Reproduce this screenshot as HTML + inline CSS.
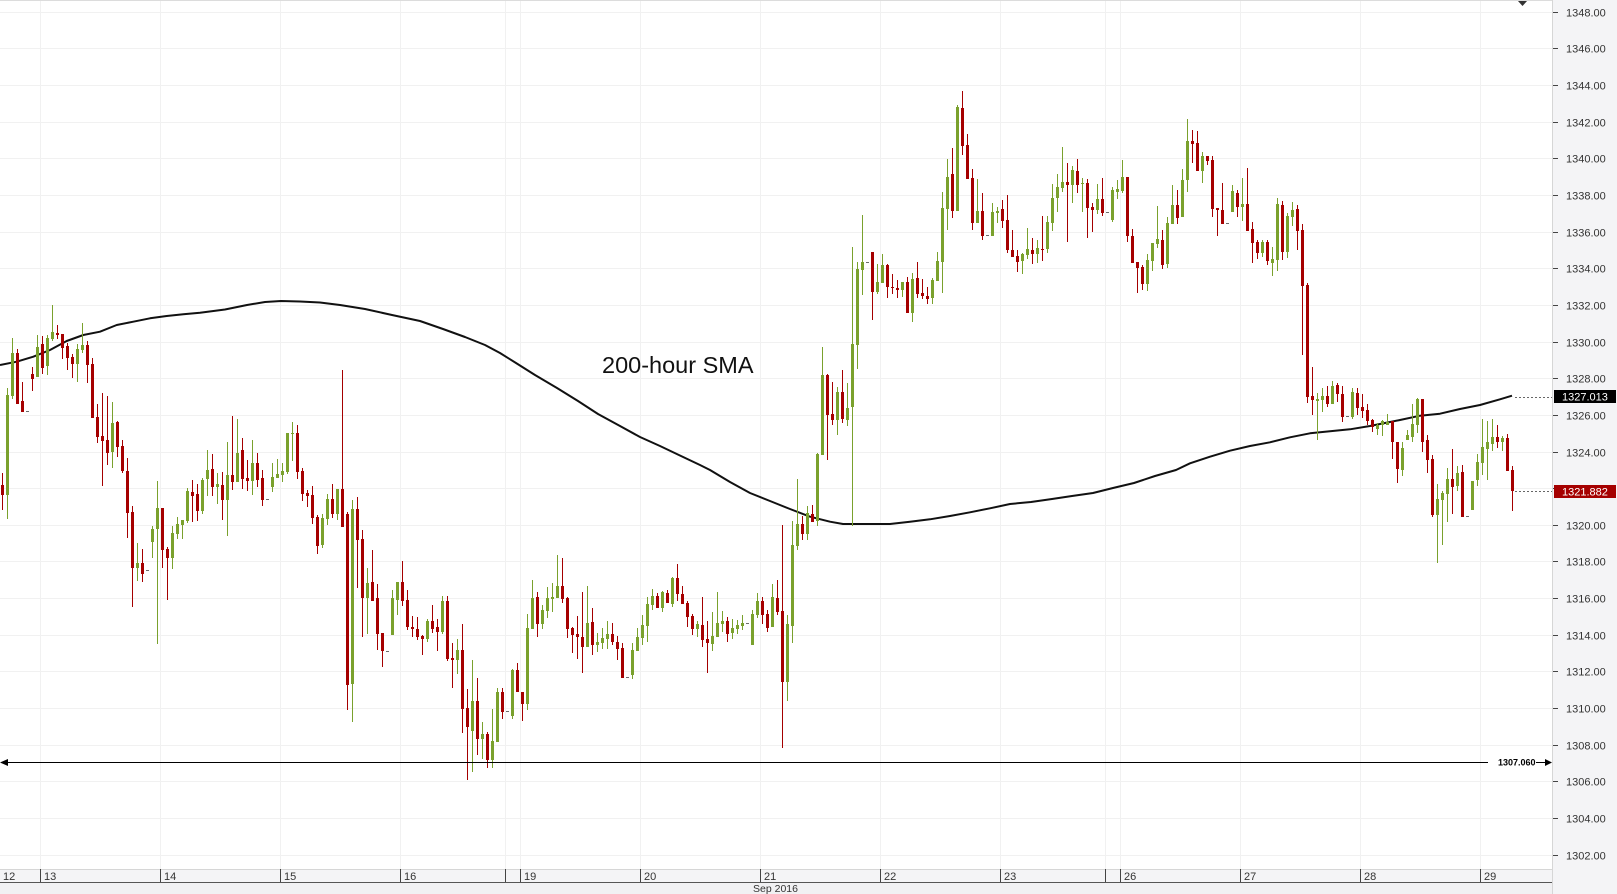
<!DOCTYPE html>
<html><head><meta charset="utf-8"><style>
html,body{margin:0;padding:0;background:#fff;}
svg{display:block;}
text{font-family:"Liberation Sans",sans-serif;}
</style></head><body>
<svg width="1617" height="894" viewBox="0 0 1617 894" xmlns="http://www.w3.org/2000/svg">
<rect x="0" y="0" width="1617" height="894" fill="#fff"/>
<!-- right axis bg -->
<rect x="1552" y="0" width="65" height="894" fill="#f4f4f6"/>
<!-- bottom axis bg -->
<rect x="0" y="869" width="1552" height="25" fill="#f4f4f6"/>
<rect x="0" y="882" width="1552" height="12" fill="#f1f1f3"/>
<!-- horizontal gridlines -->
<g stroke="#f1f1f1" stroke-width="1">
<path d="M0 12.5H1552M0 48.5H1552M0 85.5H1552M0 122.5H1552M0 158.5H1552M0 195.5H1552M0 232.5H1552M0 268.5H1552M0 305.5H1552M0 342.5H1552M0 378.5H1552M0 415.5H1552M0 452.5H1552M0 488.5H1552M0 525.5H1552M0 561.5H1552M0 598.5H1552M0 635.5H1552M0 671.5H1552M0 708.5H1552M0 745.5H1552M0 781.5H1552M0 818.5H1552M0 855.5H1552"/>
<path d="M40.5 0V869M160.5 0V869M280.5 0V869M400.5 0V869M505.5 0V869M520.5 0V869M640.5 0V869M760.5 0V869M880.5 0V869M1000.5 0V869M1105.5 0V869M1120.5 0V869M1240.5 0V869M1360.5 0V869M1480.5 0V869"/>
</g>
<!-- borders -->
<path d="M0 0.5H1552" stroke="#dcdcdc"/>
<path d="M1552.5 0V894" stroke="#d6d6d6"/>
<path d="M0 869.5H1552" stroke="#d6d6d6"/>
<path d="M0 882.5H1552" stroke="#555"/>
<!-- top-right marker -->
<polygon points="1518,1 1527,1 1522.5,6" fill="#333"/>

<!-- SMA -->
<polyline fill="none" stroke="#111" stroke-width="2" stroke-linejoin="round" points="0,365 16.7,361.7 33.3,356.7 50,350 66.7,341 83.3,335 100,331.7 116.7,325 133.3,321.7 150,318.3 166.7,316 183.3,314.3 200,312.7 225,309.5 247,305 265,302 281,301 300,301.5 320,302.5 340,305 365,309 392,315 420,321 443,329 465,337 485,345 500,353 516,363 535,375 557,388 578,401 598,414 620,426 640,437 660,446 681,456 700,465 710,470 730,482 750,493 770,501 790,509 810,516.7 830,521.7 843,524 890,524 910,521.7 930,519.3 950,516 970,512.3 990,508.3 1010,504 1031,502 1052,499 1072,496 1093,493 1113,488 1134,483 1155,476 1176,470 1190,463.3 1210,456.7 1230,450.7 1250,446 1270,442.3 1290,437.3 1310,433.3 1330,431.3 1350,429.3 1370,426 1390,422 1400,420 1420,415.7 1440,413.7 1460,409 1480,405 1500,399.3 1512,395.7"/>

<!-- red wicks -->
<path fill="none" stroke="#a50000" stroke-width="1" d="M2.5 473V510M17.5 349V404M22.5 382V412M32.5 367V391M42.5 336V374M57.5 325V339M62.5 334V359M67.5 343V370M72.5 354V378M87.5 341V383M92.5 358V418M97.5 404V443M102.5 393V486M107.5 396V465M117.5 421V457M122.5 440V473M127.5 458V538M132.5 506V607M142.5 549V582M162.5 508V568M167.5 547V600M192.5 480V522M197.5 484V521M212.5 454V496M222.5 472V520M232.5 416V490M242.5 438V489M247.5 460V491M257.5 453V487M262.5 470V506M297.5 425V479M302.5 468V501M307.5 490V507M312.5 486V524M317.5 515V554M332.5 484V518M342.5 370V527M347.5 512V710M357.5 497V588M362.5 530V637M372.5 550V601M377.5 584V650M382.5 633V667M402.5 561V606M407.5 590V630M412.5 616V637M417.5 617V640M422.5 635V655M432.5 605V633M437.5 619V651M447.5 596V661M452.5 643V688M462.5 624V733M467.5 689V780M477.5 678V755M487.5 732V768M502.5 688V719M517.5 663V692M522.5 692V721M537.5 592V637M562.5 558V603M567.5 597V638M572.5 627V653M577.5 616V659M582.5 592V673M592.5 608V655M612.5 623V645M617.5 636V660M622.5 643V678M657.5 593V608M667.5 590V603M677.5 564V601M682.5 586V604M687.5 601V627M692.5 614V635M702.5 597V647M707.5 621V673M727.5 617V642M762.5 597V624M767.5 610V632M777.5 580V615M782.5 525V748M802.5 516V540M812.5 505V522M827.5 374V460M832.5 382V425M842.5 370V423M872.5 252V320M887.5 264V298M892.5 274V294M897.5 280V298M907.5 277V313M917.5 262V298M922.5 279V299M927.5 287V304M952.5 148V218M962.5 91V155M967.5 134V179M972.5 169V230M982.5 193V240M1002.5 200V228M1007.5 195V253M1012.5 230V257M1017.5 250V272M1032.5 238V264M1042.5 216V261M1067.5 163V242M1077.5 159V193M1087.5 179V238M1092.5 203V232M1102.5 178V216M1127.5 177V242M1132.5 229V263M1137.5 262V293M1142.5 265V290M1162.5 230V269M1177.5 190V224M1192.5 130V163M1197.5 131V171M1207.5 156V165M1212.5 156V217M1217.5 208V236M1222.5 183V224M1237.5 190V217M1247.5 168V231M1252.5 222V263M1257.5 240V259M1267.5 240V265M1282.5 201V260M1297.5 205V250M1302.5 224V355M1307.5 283V403M1312.5 367V415M1327.5 386V407M1337.5 383V402M1342.5 386V422M1357.5 388V415M1362.5 394V418M1367.5 404V425M1372.5 419V432M1392.5 421V459M1397.5 442V483M1422.5 399V452M1427.5 435V473M1432.5 455V517M1452.5 449V514M1462.5 465V517M1497.5 425V448M1507.5 434V471M1512.5 466V511"/>
<!-- red bodies -->
<path fill="#a50000" d="M1 485h3v10h-3zM16 353h3v51h-3zM21 401h3v11h-3zM31 374h3v5h-3zM41 344h3v24h-3zM56 333h3v2h-3zM61 334h3v14h-3zM66 346h3v12h-3zM71 357h3v7h-3zM86 345h3v20h-3zM91 364h3v54h-3zM96 417h3v20h-3zM101 436h3v5h-3zM106 440h3v13h-3zM116 422h3v25h-3zM121 446h3v25h-3zM126 471h3v42h-3zM131 512h3v56h-3zM141 563h3v11h-3zM161 508h3v42h-3zM166 549h3v9h-3zM191 492h3v4h-3zM196 494h3v17h-3zM211 469h3v18h-3zM221 485h3v15h-3zM231 475h3v7h-3zM241 450h3v29h-3zM246 478h3v3h-3zM256 463h3v17h-3zM261 478h3v22h-3zM296 433h3v39h-3zM301 471h3v23h-3zM306 493h3v3h-3zM311 495h3v23h-3zM316 517h3v29h-3zM331 499h3v15h-3zM341 489h3v38h-3zM346 514h3v171h-3zM356 509h3v31h-3zM361 539h3v59h-3zM371 582h3v19h-3zM376 598h3v36h-3zM381 633h3v18h-3zM401 582h3v19h-3zM406 600h3v27h-3zM411 627h3v2h-3zM416 629h3v8h-3zM421 636h3v3h-3zM431 621h3v8h-3zM436 627h3v5h-3zM446 601h3v58h-3zM451 658h3v2h-3zM461 650h3v59h-3zM466 708h3v19h-3zM476 701h3v38h-3zM486 734h3v26h-3zM501 692h3v20h-3zM516 670h3v22h-3zM521 692h3v12h-3zM536 597h3v27h-3zM561 586h3v13h-3zM566 598h3v31h-3zM571 628h3v7h-3zM576 634h3v3h-3zM581 637h3v10h-3zM591 622h3v23h-3zM611 634h3v8h-3zM616 642h3v7h-3zM621 648h3v30h-3zM656 596h3v12h-3zM666 593h3v10h-3zM676 578h3v16h-3zM681 594h3v10h-3zM686 603h3v14h-3zM691 616h3v13h-3zM701 625h3v15h-3zM706 639h3v4h-3zM726 621h3v13h-3zM761 601h3v14h-3zM766 614h3v14h-3zM776 598h3v14h-3zM781 611h3v71h-3zM801 524h3v10h-3zM811 514h3v8h-3zM826 375h3v40h-3zM831 414h3v6h-3zM841 392h3v27h-3zM871 252h3v40h-3zM886 265h3v22h-3zM891 287h3v1h-3zM896 288h3v2h-3zM906 282h3v31h-3zM916 278h3v16h-3zM921 293h3v3h-3zM926 296h3v3h-3zM951 174h3v37h-3zM961 108h3v38h-3zM966 145h3v34h-3zM971 178h3v45h-3zM981 211h3v25h-3zM1001 209h3v12h-3zM1006 220h3v30h-3zM1011 250h3v7h-3zM1016 256h3v6h-3zM1031 250h3v4h-3zM1041 249h3v1h-3zM1066 182h3v3h-3zM1076 171h3v14h-3zM1086 183h3v25h-3zM1091 207h3v3h-3zM1101 199h3v14h-3zM1126 177h3v59h-3zM1131 236h3v27h-3zM1136 262h3v6h-3zM1141 267h3v17h-3zM1161 240h3v25h-3zM1176 205h3v13h-3zM1191 141h3v3h-3zM1196 143h3v28h-3zM1206 156h3v5h-3zM1211 160h3v49h-3zM1216 208h3v2h-3zM1221 210h3v14h-3zM1236 193h3v14h-3zM1246 204h3v27h-3zM1251 229h3v14h-3zM1256 242h3v11h-3zM1266 242h3v19h-3zM1281 205h3v47h-3zM1296 209h3v22h-3zM1301 230h3v56h-3zM1306 285h3v112h-3zM1311 396h3v4h-3zM1326 396h3v8h-3zM1336 385h3v9h-3zM1341 394h3v23h-3zM1356 393h3v15h-3zM1361 407h3v4h-3zM1366 410h3v11h-3zM1371 420h3v7h-3zM1391 421h3v21h-3zM1396 442h3v27h-3zM1421 399h3v43h-3zM1426 440h3v20h-3zM1431 459h3v56h-3zM1451 479h3v8h-3zM1461 472h3v45h-3zM1496 437h3v5h-3zM1506 438h3v33h-3zM1511 470h3v21h-3z"/>

<!-- green wicks -->
<path fill="none" stroke="#7aa12d" stroke-width="1" d="M7.5 388V519M12.5 338V399M37.5 335V377M47.5 335V375M52.5 305V341M77.5 344V382M82.5 323V353M112.5 402V468M137.5 543V581M152.5 526V558M157.5 481V644M172.5 526V569M177.5 517V539M182.5 520V539M187.5 488V523M202.5 478V514M207.5 450V496M217.5 473V504M227.5 442V536M237.5 419V482M252.5 440V495M272.5 463V492M277.5 459V478M282.5 463V482M287.5 433V474M292.5 422V461M322.5 514V548M327.5 494V525M337.5 489V520M352.5 500V722M367.5 568V634M392.5 590V635M397.5 582V615M427.5 619V642M442.5 596V634M457.5 639V674M472.5 660V772M482.5 722V759M492.5 709V768M497.5 688V742M512.5 669V719M527.5 614V710M532.5 580V629M542.5 605V629M547.5 587V618M552.5 583V612M557.5 555V598M587.5 586V647M597.5 633V652M602.5 628V649M607.5 621V649M632.5 643V679M637.5 628V651M642.5 615V645M647.5 597V642M652.5 589V610M662.5 591V612M672.5 577V607M697.5 621V637M712.5 612V651M717.5 592V637M722.5 611V632M732.5 619V639M737.5 620V634M742.5 615V630M752.5 610V645M757.5 593V618M772.5 584V627M787.5 615V701M792.5 521V643M797.5 479V550M807.5 506V540M817.5 453V526M822.5 347V455M837.5 387V435M847.5 383V426M852.5 247V526M857.5 262V369M862.5 215V295M877.5 264V294M882.5 254V283M902.5 282V297M912.5 273V322M932.5 278V304M937.5 252V281M942.5 192V293M947.5 159V230M957.5 105V211M977.5 179V223M992.5 203V236M997.5 207V223M1022.5 253V274M1027.5 228V259M1037.5 240V263M1047.5 216V253M1052.5 184V231M1057.5 174V212M1062.5 147V192M1072.5 166V203M1082.5 178V212M1097.5 184V214M1112.5 187V222M1117.5 180V199M1122.5 160V193M1147.5 254V291M1152.5 243V271M1157.5 206V248M1167.5 217V268M1172.5 185V224M1182.5 169V217M1187.5 119V192M1202.5 152V183M1232.5 185V212M1242.5 178V221M1262.5 240V257M1272.5 247V276M1277.5 198V271M1287.5 213V258M1292.5 202V226M1317.5 393V440M1322.5 388V412M1332.5 381V404M1352.5 388V419M1377.5 423V435M1382.5 420V436M1387.5 414V425M1402.5 442V476M1407.5 430V440M1412.5 404V442M1417.5 398V433M1437.5 484V563M1442.5 491V545M1447.5 468V522M1457.5 466V491M1472.5 481V510M1477.5 454V486M1482.5 419V475M1487.5 421V480M1492.5 419V451M1502.5 436V451"/>
<!-- green bodies -->
<path fill="#7aa12d" d="M6 395h3v100h-3zM11 353h3v43h-3zM36 347h3v30h-3zM46 338h3v28h-3zM51 332h3v7h-3zM76 349h3v15h-3zM81 345h3v5h-3zM111 423h3v29h-3zM136 563h3v5h-3zM151 529h3v13h-3zM156 508h3v21h-3zM171 533h3v25h-3zM176 524h3v10h-3zM181 520h3v5h-3zM186 491h3v30h-3zM201 480h3v31h-3zM206 470h3v9h-3zM216 484h3v3h-3zM226 475h3v25h-3zM236 453h3v29h-3zM251 463h3v18h-3zM271 477h3v10h-3zM276 474h3v4h-3zM281 471h3v4h-3zM286 433h3v39h-3zM291 433h3v1h-3zM321 518h3v27h-3zM326 499h3v20h-3zM336 489h3v25h-3zM351 509h3v175h-3zM366 583h3v15h-3zM391 598h3v37h-3zM396 582h3v18h-3zM426 621h3v18h-3zM441 601h3v31h-3zM456 650h3v10h-3zM471 701h3v30h-3zM481 734h3v5h-3zM491 741h3v19h-3zM496 692h3v50h-3zM511 670h3v46h-3zM526 628h3v76h-3zM531 598h3v31h-3zM541 610h3v14h-3zM546 598h3v13h-3zM551 597h3v2h-3zM556 586h3v12h-3zM586 623h3v24h-3zM596 642h3v3h-3zM601 638h3v5h-3zM606 634h3v5h-3zM631 650h3v25h-3zM636 637h3v14h-3zM641 625h3v13h-3zM646 604h3v22h-3zM651 596h3v9h-3zM661 592h3v16h-3zM671 578h3v26h-3zM696 624h3v5h-3zM711 636h3v8h-3zM716 623h3v14h-3zM721 621h3v3h-3zM731 628h3v5h-3zM736 625h3v4h-3zM741 623h3v3h-3zM751 614h3v31h-3zM756 601h3v14h-3zM771 597h3v30h-3zM786 624h3v58h-3zM791 545h3v81h-3zM796 524h3v22h-3zM806 513h3v21h-3zM816 454h3v67h-3zM821 375h3v80h-3zM836 392h3v28h-3zM846 408h3v12h-3zM851 344h3v63h-3zM856 269h3v76h-3zM861 262h3v8h-3zM876 282h3v10h-3zM881 265h3v18h-3zM901 282h3v8h-3zM911 279h3v34h-3zM931 280h3v18h-3zM936 261h3v20h-3zM941 208h3v54h-3zM946 177h3v32h-3zM956 107h3v104h-3zM976 211h3v12h-3zM991 212h3v24h-3zM996 211h3v2h-3zM1021 254h3v7h-3zM1026 249h3v6h-3zM1036 248h3v6h-3zM1046 222h3v27h-3zM1051 198h3v25h-3zM1056 187h3v11h-3zM1061 182h3v6h-3zM1071 170h3v15h-3zM1081 183h3v1h-3zM1096 199h3v11h-3zM1111 190h3v30h-3zM1116 189h3v3h-3zM1121 177h3v14h-3zM1146 260h3v24h-3zM1151 243h3v18h-3zM1156 239h3v5h-3zM1166 223h3v41h-3zM1171 205h3v19h-3zM1181 180h3v37h-3zM1186 141h3v39h-3zM1201 156h3v15h-3zM1231 191h3v21h-3zM1241 204h3v3h-3zM1261 242h3v11h-3zM1271 259h3v4h-3zM1276 204h3v56h-3zM1286 216h3v36h-3zM1291 210h3v7h-3zM1316 399h3v2h-3zM1321 396h3v4h-3zM1331 386h3v18h-3zM1351 392h3v25h-3zM1376 425h3v4h-3zM1381 421h3v4h-3zM1386 422h3v3h-3zM1401 448h3v22h-3zM1406 435h3v5h-3zM1411 424h3v13h-3zM1416 399h3v26h-3zM1436 499h3v16h-3zM1441 493h3v7h-3zM1446 479h3v15h-3zM1456 473h3v13h-3zM1471 481h3v29h-3zM1476 462h3v18h-3zM1481 447h3v16h-3zM1486 442h3v7h-3zM1491 437h3v7h-3zM1501 438h3v4h-3z"/>
<!-- gray dashes -->
<path fill="#6b6b6b" d="M26 411h3v1h-3zM146 570h3v1h-3zM266 499h3v1h-3zM386 651h3v1h-3zM506 711h3v1h-3zM626 677h3v1h-3zM746 623h3v1h-3zM866 262h3v1h-3zM986 235h3v1h-3zM1106 212h3v1h-3zM1226 223h3v1h-3zM1346 416h3v1h-3zM1466 516h3v1h-3z"/>

<!-- 200-hour SMA label -->
<text x="602" y="373" font-size="23.5" fill="#111">200-hour SMA</text>

<!-- 1307.060 line -->
<path d="M3 762.5H1488M1536 762.5H1547" stroke="#000" stroke-width="1"/>
<polygon points="0,762.5 8,759 8,766" fill="#000"/>
<polygon points="1552,762.5 1545,759 1545,766" fill="#000"/>
<text x="1498" y="765.5" font-size="9" font-weight="bold" fill="#000">1307.060</text>

<!-- dotted last-value lines -->
<path d="M1515 397.5H1552M1515 491.5H1552" stroke="#666" stroke-width="1" stroke-dasharray="2,2"/>

<!-- y axis ticks and labels -->
<path stroke="#444" stroke-width="1" d="M1553 12.5h5M1553 48.5h5M1553 85.5h5M1553 122.5h5M1553 158.5h5M1553 195.5h5M1553 232.5h5M1553 268.5h5M1553 305.5h5M1553 342.5h5M1553 378.5h5M1553 415.5h5M1553 452.5h5M1553 488.5h5M1553 525.5h5M1553 561.5h5M1553 598.5h5M1553 635.5h5M1553 671.5h5M1553 708.5h5M1553 745.5h5M1553 781.5h5M1553 818.5h5M1553 855.5h5"/>
<g font-size="11" fill="#333">
<text x="1566" y="16.5">1348.00</text>
<text x="1566" y="52.5">1346.00</text>
<text x="1566" y="89.5">1344.00</text>
<text x="1566" y="126.5">1342.00</text>
<text x="1566" y="162.5">1340.00</text>
<text x="1566" y="199.5">1338.00</text>
<text x="1566" y="236.5">1336.00</text>
<text x="1566" y="272.5">1334.00</text>
<text x="1566" y="309.5">1332.00</text>
<text x="1566" y="346.5">1330.00</text>
<text x="1566" y="382.5">1328.00</text>
<text x="1566" y="419.5">1326.00</text>
<text x="1566" y="456.5">1324.00</text>
<text x="1566" y="529.5">1320.00</text>
<text x="1566" y="565.5">1318.00</text>
<text x="1566" y="602.5">1316.00</text>
<text x="1566" y="639.5">1314.00</text>
<text x="1566" y="675.5">1312.00</text>
<text x="1566" y="712.5">1310.00</text>
<text x="1566" y="749.5">1308.00</text>
<text x="1566" y="785.5">1306.00</text>
<text x="1566" y="822.5">1304.00</text>
<text x="1566" y="859.5">1302.00</text>
</g>
<!-- value boxes -->
<rect x="1554" y="390" width="62" height="13" fill="#000"/>
<text x="1562" y="400.5" font-size="11" fill="#fff">1327.013</text>
<rect x="1554" y="485" width="62" height="13" fill="#a50000"/>
<text x="1562" y="495.5" font-size="11" fill="#fff">1321.882</text>

<!-- x axis ticks -->
<path stroke="#444" stroke-width="1" d="M40.5 869V882M160.5 869V882M280.5 869V882M400.5 869V882M505.5 869V882M520.5 869V882M640.5 869V882M760.5 869V882M880.5 869V882M1000.5 869V882M1105.5 869V882M1120.5 869V882M1240.5 869V882M1360.5 869V882M1480.5 869V882"/>
<g font-size="11" fill="#333">
<text x="3" y="880">12</text>
<text x="44" y="880">13</text>
<text x="164" y="880">14</text>
<text x="284" y="880">15</text>
<text x="404" y="880">16</text>
<text x="524" y="880">19</text>
<text x="644" y="880">20</text>
<text x="764" y="880">21</text>
<text x="884" y="880">22</text>
<text x="1004" y="880">23</text>
<text x="1124" y="880">26</text>
<text x="1244" y="880">27</text>
<text x="1364" y="880">28</text>
<text x="1484" y="880">29</text>
</g>
<text x="775.5" y="892" font-size="10.5" fill="#333" text-anchor="middle">Sep 2016</text>
</svg>
</body></html>
